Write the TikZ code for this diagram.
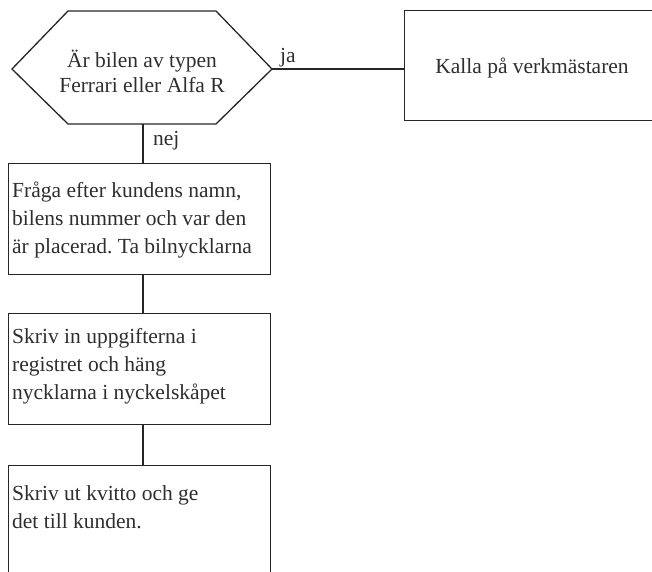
\documentclass[tikz,border=0pt]{standalone}
\usepackage{fontspec}
\setmainfont{Liberation Serif}
\frenchspacing
\begin{document}
\begin{tikzpicture}[x=1pt,y=-1pt,
  conn/.style={draw=black!85, line width=1.3pt},
  stepbox/.style={draw=black!85, line width=1.3pt, anchor=north west,
    inner sep=0pt, minimum width=262pt, minimum height=111pt},
  boxtext/.style={anchor=north west, inner sep=0pt, text=black!82,
    align=left, font=\fontsize{21.5}{28}\selectfont},
  lbl/.style={inner sep=0pt, text=black!82, font=\fontsize{21.5}{26}\selectfont}]
\useasboundingbox (0,0) rectangle (652,571);

% decision hexagon
\draw[conn, line join=miter] (68,11) -- (216,11) -- (272,69) -- (216,124)
  -- (68,124) -- (12,69) -- cycle;
\coordinate (hexE) at (272,69);
\coordinate (hexS) at (143,124);
\node[lbl, align=center, font=\fontsize{21.5}{25}\selectfont, anchor=base]
  (question) at (142,92) {Är bilen av typen\\Ferrari eller Alfa R};

% action boxes
\node[stepbox, minimum width=270pt, minimum height=110pt] (kalla) at (404,10) {};
\node[lbl, anchor=base] (kallatext) at (532,73) {Kalla på verkmästaren};

\node[stepbox] (ask) at (8,163) {};
\node[stepbox] (register) at (8,313) {};
\node[stepbox, minimum height=130pt] (receipt) at (8,465) {};

\node[boxtext] (asktext) at (12,182)
  {Fråga efter kundens namn,\\bilens nummer och var den\\är placerad. Ta bilnycklarna};
\node[boxtext] (registertext) at (12,328)
  {Skriv in uppgifterna i\\registret och häng\\nycklarna i nyckelskåpet};
\node[boxtext] (receipttext) at (12,485)
  {Skriv ut kvitto och ge\\det till kunden.};

% connectors
\draw[conn] (hexE) -- (hexE -| kalla.west);
\draw[conn] (hexS) -- (hexS |- ask.north);
\draw[conn] (ask.south -| hexS) -- (register.north -| hexS);
\draw[conn] (register.south -| hexS) -- (receipt.north -| hexS);

% branch labels
\node[lbl, anchor=base west] (ja) at (280,62) {ja};
\node[lbl, anchor=base west] (nej) at (153,145) {nej};
\end{tikzpicture}
\end{document}
